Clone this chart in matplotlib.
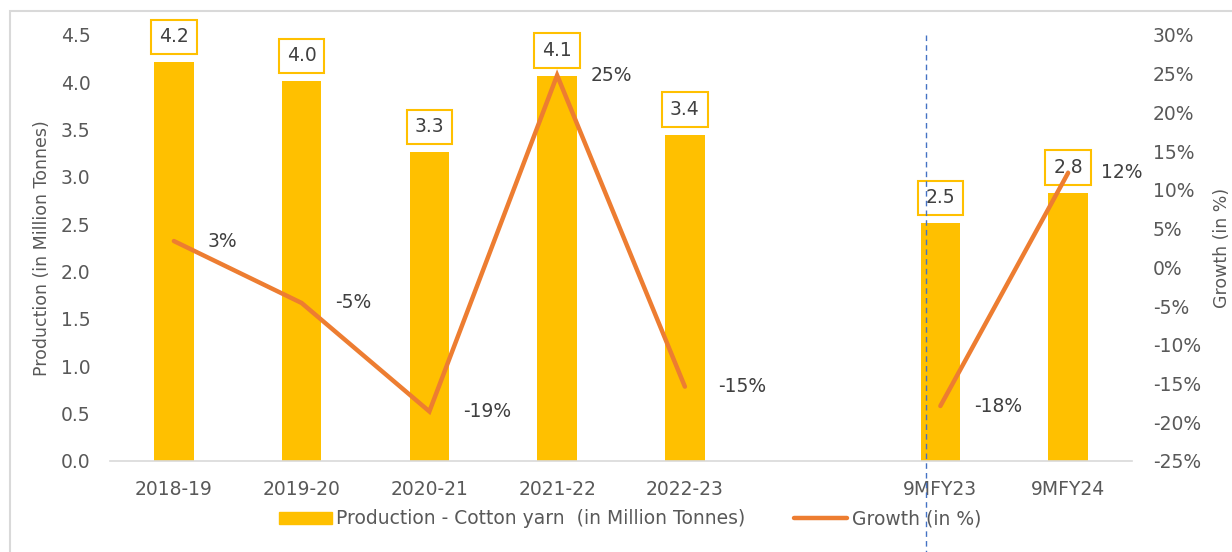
import numpy as np
import matplotlib
matplotlib.use("Agg")
import matplotlib.pyplot as plt
from matplotlib.patches import Rectangle
from matplotlib.lines import Line2D

plt.rcParams['font.family'] = ['DejaVu Sans']

# index 5 is an empty slot separating full years from the 9-month figures
categories = ['2018-19', '2019-20', '2020-21', '2021-22', '2022-23', '', '9MFY23', '9MFY24']
production = [4.21, 4.01, 3.26, 4.07, 3.44, np.nan, 2.51, 2.83]
growth = [3.4, -4.6, -18.6, 24.8, -15.4, np.nan, -17.9, 12.2]

bar_color = '#FFC000'
line_color = '#ED7D31'
text_color = '#404040'
tick_color = '#595959'
fs = 13.5

fig = plt.figure(figsize=(12.32, 5.52), dpi=100)
W, H = 1232, 552
ax = fig.add_axes([110 / W, (H - 461) / H, (1132 - 110) / W, (461 - 35) / H])
ax2 = ax.twinx()

# outer frame around the figure
fig.patches.append(Rectangle((10 / W, -0.1), 1.2, (H - 11) / H + 0.1, transform=fig.transFigure,
                             fill=False, edgecolor='#D9D9D9', linewidth=1.5))

x = np.arange(len(categories))
bars = ax.bar(x, production, width=0.31, color=bar_color, zorder=2)
ax.set_xlim(-0.5, len(categories) - 0.5)
ax.set_ylim(0, 4.5)
ax.set_yticks(np.arange(0, 4.51, 0.5))
ax.set_yticklabels([f'{v:.1f}' for v in np.arange(0, 4.51, 0.5)])
ax.set_xticks(x)
ax.set_xticklabels(categories)

for i, v in enumerate(production):
    if np.isnan(v):
        continue
    ax.annotate(f'{v:.1f}', (x[i], v), xytext=(0, 11.5), textcoords='offset points',
                ha='center', va='bottom', fontsize=fs, color=text_color,
                bbox=dict(boxstyle='square,pad=0.42', fc='white', ec=bar_color, lw=1.5))

ax2.plot(x, growth, color=line_color, linewidth=3.2, solid_capstyle='round',
         solid_joinstyle='miter', zorder=3)
ax2.set_ylim(-25, 30)
ax2.set_yticks(np.arange(-25, 31, 5))
ax2.set_yticklabels([f'{v}%' for v in range(-25, 31, 5)])
for i, v in enumerate(growth):
    if np.isnan(v):
        continue
    ax2.annotate(f'{v:.0f}%', (x[i], v), xytext=(24, 0), textcoords='offset points',
                 ha='left', va='center', fontsize=fs, color=text_color)

# dashed separator between annual and 9-month figures
ax.add_line(Line2D([5.89, 5.89], [1.0, -0.3], transform=ax.get_xaxis_transform(),
                   color='#4472C4', linestyle=(0, (4, 3)), linewidth=1, clip_on=False, zorder=4))

for a in (ax, ax2):
    for s in a.spines.values():
        s.set_visible(False)
    a.tick_params(length=0, labelsize=fs, colors=tick_color)
ax.spines['bottom'].set_visible(True)
ax.spines['bottom'].set_color('#D9D9D9')
ax.spines['bottom'].set_linewidth(1.2)
ax.tick_params(axis='y', pad=14)
ax.tick_params(axis='x', pad=13.5)
ax2.tick_params(axis='y', pad=15)

ax.set_ylabel('Production (in Million Tonnes)', fontsize=12.5, color=tick_color, labelpad=7)
ax2.set_ylabel('Growth (in %)', fontsize=12.5, color=tick_color, labelpad=9)

handles = [Rectangle((0, 0), 1, 1, color=bar_color),
           Line2D([], [], color=line_color, linewidth=3.2, solid_capstyle='round')]
fig.legend(handles, ['Production - Cotton yarn  (in Million Tonnes)', 'Growth (in %)'],
           loc='center', bbox_to_anchor=(630 / W, (H - 519) / H), ncol=2, frameon=False,
           fontsize=fs, labelcolor=tick_color, handlelength=2.8, handletextpad=0.25,
           columnspacing=2.6, handleheight=0.6)

fig.savefig('out.png', dpi=100)
